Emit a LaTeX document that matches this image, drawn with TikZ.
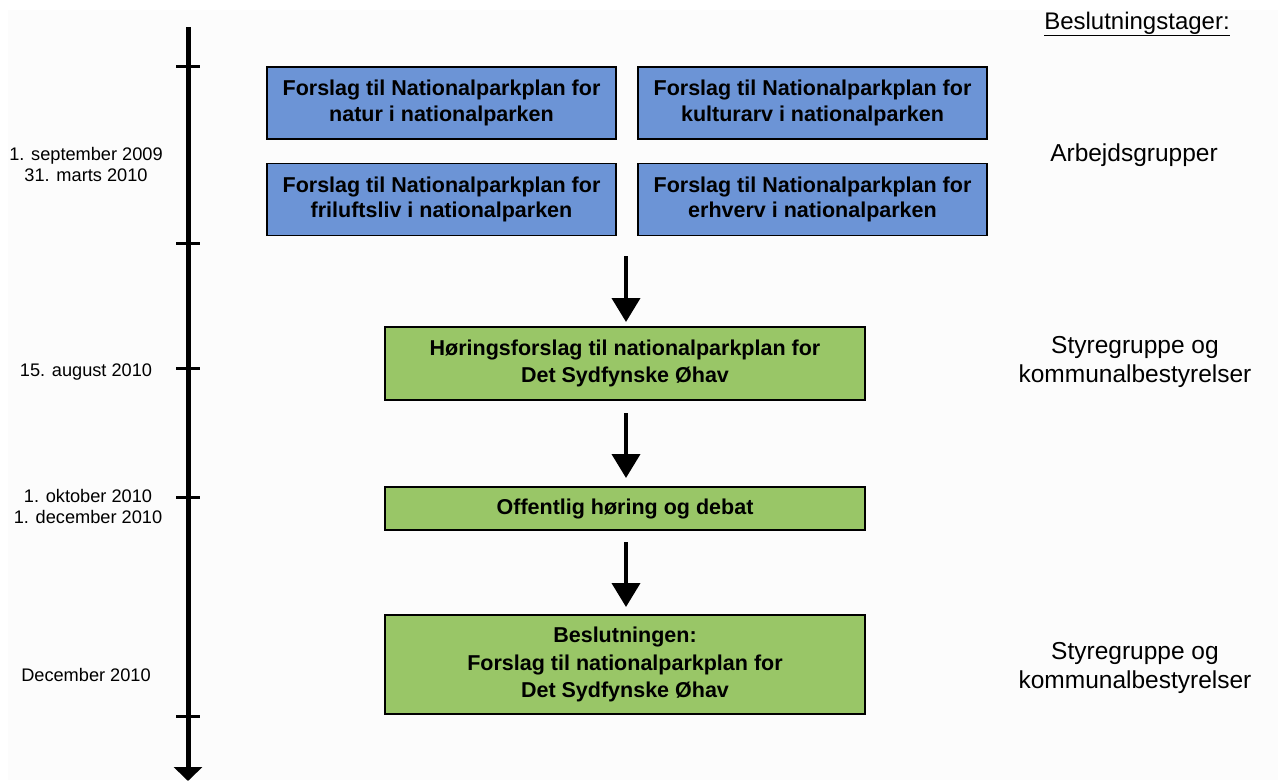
\documentclass[tikz,border=0pt]{standalone}
\usepackage{fontspec}
\setmainfont{Liberation Sans}
\usetikzlibrary{arrows.meta}
\definecolor{boxblue}{RGB}{108,148,214}
\definecolor{boxgreen}{RGB}{153,198,103}
\definecolor{bgc}{RGB}{252,252,252}
\tikzset{
  bluebox/.style={draw=black, line width=1.2pt, fill=boxblue, minimum width=349pt, minimum height=72pt, inner sep=0pt, align=center, font=\fontsize{21.5}{25.5}\selectfont\bfseries},
  greenbox/.style={draw=black, line width=1.2pt, fill=boxgreen, minimum width=480pt, inner sep=0pt, align=center, font=\fontsize{21.5}{27.5}\selectfont\bfseries},
  flowarrow/.style={line width=4pt, -{Triangle[width=28pt,length=24pt]}},
  tick/.style={line width=3pt},
  datelbl/.style={align=center, font=\fontsize{18.2}{21}\selectfont, inner sep=0pt},
  decilbl/.style={align=center, font=\fontsize{24.5}{29}\selectfont, inner sep=0pt}
}
\begin{document}
\begin{tikzpicture}[x=1pt,y=-1pt]
\useasboundingbox (0,0) rectangle (1278,780);
\fill[white] (0,0) rectangle (1278,780);
\fill[bgc] (8,10) rectangle (1278,780);
% timeline
\coordinate (t0) at (188,27);
\coordinate (t1) at (188,781);
\draw[line width=5pt, -{Triangle[width=28pt,length=14pt]}] (t0) -- (t1);
\foreach \y in {66,243,368,497,716}{
  \draw[tick] (176,\y) -- (200,\y);
}
% blue boxes
\node[bluebox] (b1) at (441.5,103) {Forslag til Nationalparkplan for\\natur i nationalparken};
\node[bluebox] (b2) at (812.5,103) {Forslag til Nationalparkplan for\\kulturarv i nationalparken};
\node[bluebox] (b3) at (441.5,199.5) {Forslag til Nationalparkplan for\\friluftsliv i nationalparken};
\node[bluebox] (b4) at (812.5,199.5) {Forslag til Nationalparkplan for\\erhverv i nationalparken};
% green boxes
\node[greenbox, minimum height=73pt] (g1) at (625,363.5) {Høringsforslag til nationalparkplan for\\Det Sydfynske Øhav};
\node[greenbox, minimum height=43pt] (g2) at (625,508.5) {Offentlig høring og debat};
\node[greenbox, minimum height=99pt] (g3) at (625,664.5) {Beslutningen:\\Forslag til nationalparkplan for\\Det Sydfynske Øhav};
% arrows
\coordinate (a1s) at (626,256);
\coordinate (a2s) at (626,413);
\coordinate (a3s) at (626,542);
\draw[flowarrow] (a1s) -- (a1s |- 0,322);
\draw[flowarrow] (a2s) -- (a2s |- 0,478);
\draw[flowarrow] (a3s) -- (a3s |- 0,607);
% dates
\node[datelbl] (d1) at (86,164) {1. september 2009\\31. marts 2010};
\node[datelbl] (d2) at (86,372) {15. august 2010};
\node[datelbl] (d3) at (88,506) {1. oktober 2010\\1. december 2010};
\node[datelbl] (d4) at (86,675) {December 2010};
% decision makers
\node[font=\fontsize{24}{28}\selectfont, inner sep=0pt] (h) at (1137,24) {\underline{Beslutningstager:}};
\node[decilbl] (r1) at (1134,155) {Arbejdsgrupper};
\node[decilbl] (r2) at (1135,361.5) {Styregruppe og\\kommunalbestyrelser};
\node[decilbl] (r3) at (1135,668) {Styregruppe og\\kommunalbestyrelser};
\end{tikzpicture}
\end{document}
